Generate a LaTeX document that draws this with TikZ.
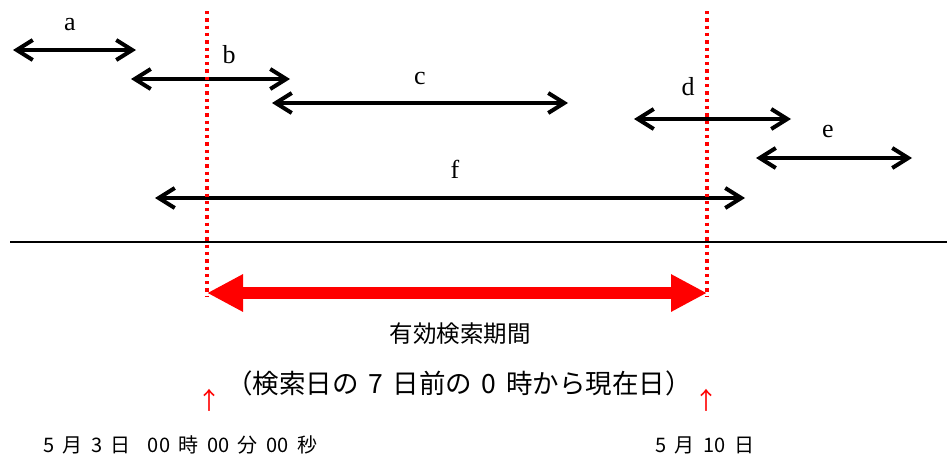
\documentclass[tikz,border=0pt]{standalone}
\usepackage{fontspec}
\setmainfont{Liberation Serif}
\newfontfamily\jp{Noto Sans CJK JP}
\usetikzlibrary{arrows.meta}
\begin{document}
\begin{tikzpicture}[x=1pt,y=-1pt,
  span/.style={line width=4pt,{Straight Barb[length=16pt,width=20pt]}-{Straight Barb[length=16pt,width=20pt]}},
  lbl/.style={font=\fontsize{26}{26}\selectfont, inner sep=0pt},
  redline/.style={red, line width=3.3pt, dash pattern=on 3.3pt off 4pt},
  period/.style={red, line width=11.5pt, {Triangle[length=36pt,width=35pt]}-{Triangle[length=36pt,width=35pt]}},
  jtxt/.style={font=\jp\fontsize{#1}{#1}\selectfont, inner sep=0pt},
  uparrow/.style={text=red, font=\jp\fontsize{24}{24}\selectfont, inner sep=0pt}]
\useasboundingbox (0,0) rectangle (947,461);
% spans
\coordinate (a1) at (13,50);  \coordinate (a2) at (136,50);
\coordinate (b1) at (131,79); \coordinate (b2) at (290,79);
\coordinate (c1) at (272,103); \coordinate (c2) at (568,103);
\coordinate (d1) at (634,119); \coordinate (d2) at (791,119);
\coordinate (e1) at (756,158); \coordinate (e2) at (912,158);
\coordinate (f1) at (155,198); \coordinate (f2) at (745,198);
\draw[span] (a1) -- (a2);
\draw[span] (b1) -- (b2);
\draw[span] (c1) -- (c2);
\draw[span] (d1) -- (d2);
\draw[span] (e1) -- (e2);
\draw[span] (f1) -- (f2);
\node[lbl] (la) at (70,25) {a};
\node[lbl] (lb) at (229,55) {b};
\node[lbl] (lc) at (420,78) {c};
\node[lbl] (ld) at (688,87) {d};
\node[lbl] (le) at (828,131) {e};
\node[lbl] (lf) at (455,169) {f};
% time axis
\coordinate (ax1) at (10,242); \coordinate (ax2) at (947,242);
\draw[line width=1.5pt] (ax1) -- (ax2);
% red dotted bounds
\coordinate (s1) at (207,11); \coordinate (s2) at (207,296);
\coordinate (t1) at (707,11); \coordinate (t2) at (707,296);
\draw[redline] (s1) -- (s2);
\draw[redline] (t1) -- (t2);
% period arrow
\coordinate (p1) at (207,293); \coordinate (p2) at (707,293);
\draw[period] (p1) -- (p2);
\node[jtxt=23.5] (title) at (460,334) {有効検索期間};
\def\ws{\hspace{0.36em}}
\node[jtxt=26.5] (sub) at (459,383) {（検索日の\ws 7\ws 日前の\ws 0\ws 時から現在日）};
\node[uparrow] (u1) at (209,400) {↑};
\node[uparrow] (u2) at (706,400) {↑};
\def\sp{\hspace{8.5pt}}
\node[jtxt=20, anchor=west] (from) at (43,445) {5\sp 月\sp 3\sp 日\sp\sp 00\sp 時\sp 00\sp 分\sp 00\sp 秒};
\node[jtxt=20, anchor=west] (to) at (655,445) {5\sp 月\sp 10\sp 日};
\end{tikzpicture}
\end{document}
